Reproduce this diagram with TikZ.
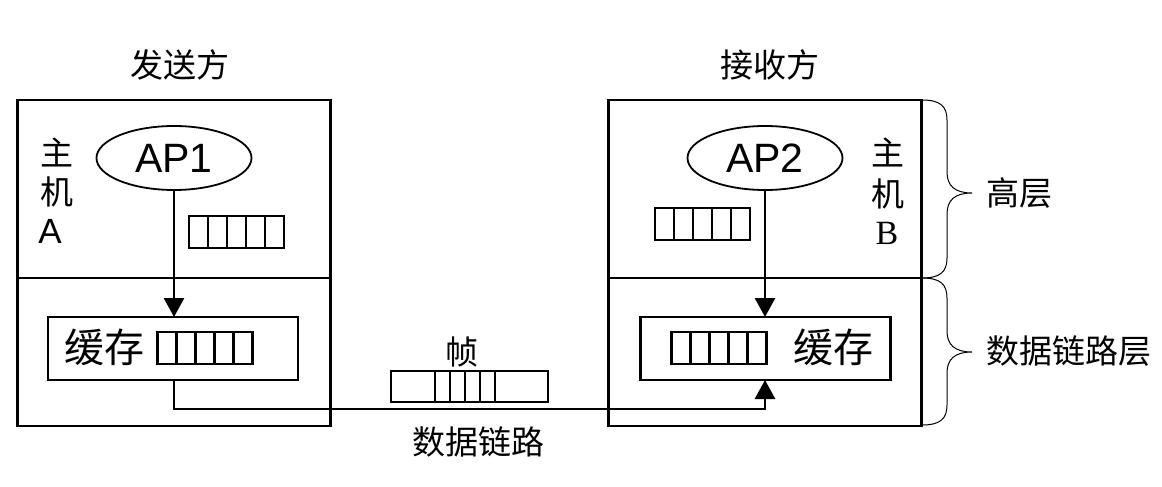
\documentclass[tikz,border=0pt]{standalone}
\usepackage{fontspec}
\setmainfont{Liberation Serif}
\newfontfamily\cjk{Noto Sans CJK SC}
\newfontfamily\arialf{Liberation Sans}
\usetikzlibrary{arrows.meta,calc,shapes.geometric}
\begin{document}
\begin{tikzpicture}[x=1pt,y=-1pt,
  thick line/.style={line width=2.8pt},
  hostbox/.style={draw,thick line,rectangle,inner sep=0,outer sep=0,minimum width=313pt,minimum height=326pt},
  bufbox/.style={draw,thick line,rectangle,inner sep=0,outer sep=0,minimum width=250pt,minimum height=63pt},
  apnode/.style={draw,line width=1.8pt,ellipse,inner sep=0,outer sep=0,minimum width=155pt,minimum height=64pt,font=\arialf\fontsize{41}{41}\selectfont},
  queue/.style={draw,line width=2.4pt,rectangle,inner sep=0,outer sep=0,minimum width=95pt,minimum height=32pt},
  qline/.style={line width=2.4pt},
  txt/.style={inner sep=0,outer sep=0,font=\cjk\fontsize{33}{33}\selectfont},
  bigtxt/.style={inner sep=0,outer sep=0,font=\cjk\fontsize{40}{40}\selectfont},
  arr/.style={thick line,-{Triangle[width=20pt,length=19pt]}},
  bracestyle/.style={line width=1pt}
]
\useasboundingbox (0,0) rectangle (1162,487);

% titles
\node[txt] (tA) at (180,65) {发送方};
\node[txt] (tB) at (770,65) {接收方};

% host boxes
\node[hostbox] (hostA) at (174,263) {};
\node[hostbox] (hostB) at (765,263) {};
\coordinate (div) at (0,278);
\draw[thick line] (hostA.west |- div) -- (hostA.east |- div);
\draw[thick line] (hostB.west |- div) -- (hostB.east |- div);

% labels
\node[txt] (zhuA) at (57,152) {主};
\node[txt] (jiA) at (57,192) {机};
\node[inner sep=0,font=\arialf\fontsize{35}{35}\selectfont] (labA) at (50,231) {A};
\node[txt] (zhuB) at (888,152) {主};
\node[txt] (jiB) at (888,194) {机};
\node[inner sep=0,font=\fontsize{34}{34}\selectfont] (labB) at (887,233) {B};

% AP ellipses
\node[apnode] (ap1) at (174,158) {AP1};
\node[apnode] (ap2) at (765,158) {AP2};

% upper queues
\node[queue] (qa) at (236.5,232) {};
\node[queue] (qb) at (702.5,224) {};

% buffer boxes
\node[bufbox] (bufA) at (173,348.5) {};
\node[bufbox] (bufB) at (765.5,348.5) {};
\node[bigtxt] (hcA) at (104,347) {缓存};
\node[bigtxt] (hcB) at (833,347) {缓存};
\node[queue] (qc) at (205,348) {};
\node[queue] (qd) at (719,348) {};

\foreach \q in {qa,qb,qc,qd}{
  \foreach \i in {1,...,4}{
    \draw[qline] ($(\q.north west)!\i/5!(\q.north east)$) -- ($(\q.south west)!\i/5!(\q.south east)$);
  }
}

% arrows
\draw[arr] (ap1.south) -- (ap1.south |- bufA.north);
\draw[arr] (ap2.south) -- (ap2.south |- bufB.north);
\coordinate (linkY) at (0,409);
\draw[arr] (bufA.south -| ap1.south) -- (ap1.south |- linkY) -- (ap2.south |- linkY) -- (ap2.south |- bufB.south);

% frame
\node[draw,line width=2.4pt,rectangle,inner sep=0,outer sep=0,minimum width=157pt,minimum height=31pt] (frame) at (469.5,386.5) {};
\foreach \f in {0.28,0.376,0.471,0.567,0.662}{
  \draw[qline] ($(frame.north west)!\f!(frame.north east)$) -- ($(frame.south west)!\f!(frame.south east)$);
}
\node[txt] (zhen) at (462,352) {帧};
\node[txt] (link) at (478,442) {数据链路};

% braces
\coordinate (b1s) at (922,100);
\coordinate (b1t) at (972,193);
\coordinate (b1e) at (922,278);
\coordinate (b2t) at (972,352);
\coordinate (b2e) at (922,425);
\draw[bracestyle] (b1s) .. controls (940,100) and (947,106) .. (947,120)
  -- (947,172) .. controls (947,186) and (955,193) .. (b1t)
  .. controls (955,193) and (947,200) .. (947,214)
  -- (947,258) .. controls (947,272) and (940,278) .. (b1e);
\draw[bracestyle] (b1e) .. controls (940,278) and (947,284) .. (947,298)
  -- (947,331) .. controls (947,345) and (955,352) .. (b2t)
  .. controls (955,352) and (947,359) .. (947,373)
  -- (947,405) .. controls (947,419) and (940,425) .. (b2e);
\node[txt,anchor=west] (hl) at (986,193) {高层};
\node[txt,anchor=west] (dl) at (986,351) {数据链路层};
\end{tikzpicture}
\end{document}
